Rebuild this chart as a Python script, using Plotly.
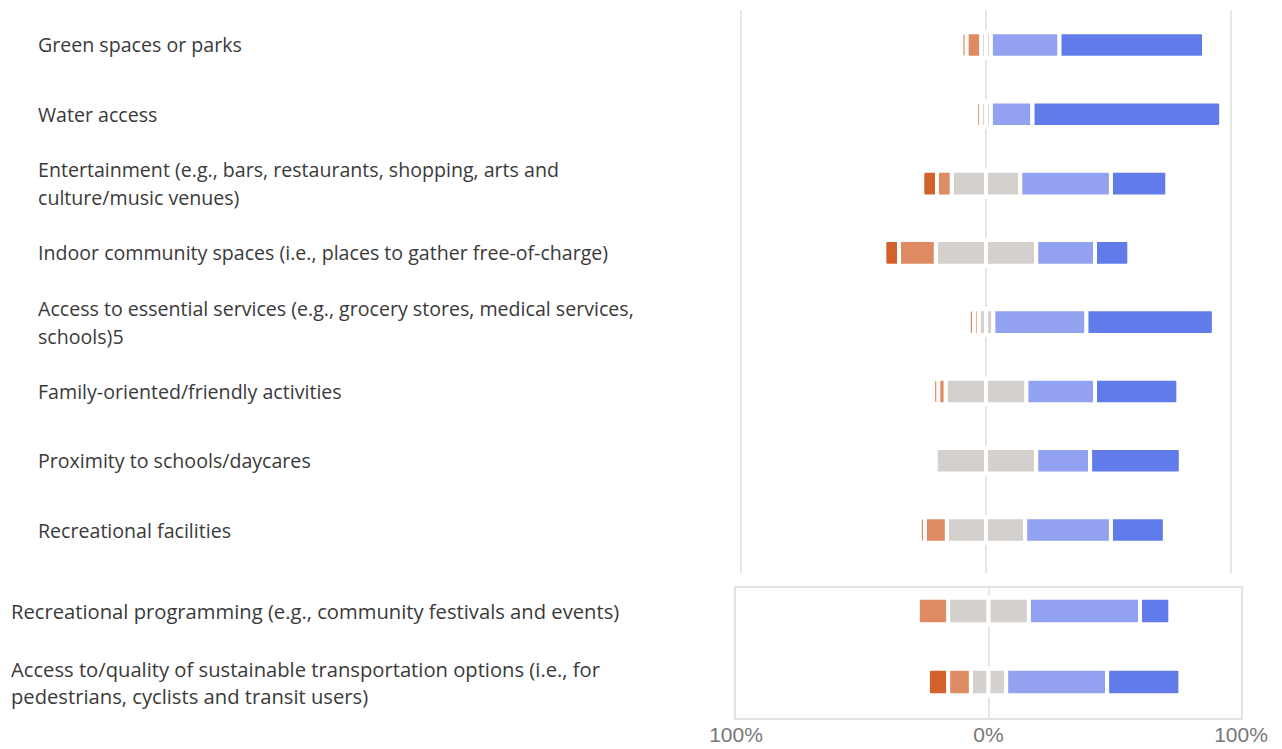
import plotly.graph_objects as go

# ---------------- data ----------------
categories_top = [
    "Green spaces or parks",
    "Water access",
    "Entertainment (e.g., bars, restaurants, shopping, arts and<br>culture/music venues)",
    "Indoor community spaces (i.e., places to gather free-of-charge)",
    "Access to essential services (e.g., grocery stores, medical services,<br>schools)5",
    "Family-oriented/friendly activities",
    "Proximity to schools/daycares",
    "Recreational facilities",
]
categories_bottom = [
    "Recreational programming (e.g., community festivals and events)",
    "Access to/quality of sustainable transportation options (i.e., for<br>pedestrians, cyclists and transit users)",
]

strongly_neg_top = [2, 0, 6, 6, 2, 2, 0, 2]
neg_top = [6, 2, 6, 15, 2, 3, 0, 9]
neutral_top = [4, 4, 28, 41, 6, 33, 41, 32]
pos_top = [28, 17, 37, 24, 38, 28, 22, 35]
strongly_pos_top = [59, 77, 23, 14, 52, 34, 37, 22]

strongly_neg_bottom = [0, 8]
neg_bottom = [12, 9]
neutral_bottom = [32, 14]
pos_bottom = [44, 40]
strongly_pos_bottom = [12, 29]

tick_vals = [-100, 0, 100]
tick_text = ["100%", "0%", "100%"]

# ---------------- style ----------------
C_SNEG = "#D2622A"
C_NEG = "#DE8B63"
C_NEU = "#D3D0CE"
C_POS = "#93A1F1"
C_SPOS = "#617BEB"

W, H = 1282, 749
BAR_W = 0.37
LINE = dict(color="white", width=4)


def fx(px):
    return px / W


def fy(px):
    return 1 - px / H


fig = go.Figure()


def add_panel(cats, sneg, neg, neu, pos, spos, xa, ya):
    half = [v / 2 for v in neu]
    series = [
        ([-h for h in half], C_NEU),
        (half, C_NEU),
        ([-v for v in neg], C_NEG),
        (pos, C_POS),
        ([-v for v in sneg], C_SNEG),
        (spos, C_SPOS),
    ]
    for vals, col in series:
        fig.add_trace(go.Bar(
            y=cats, x=vals, orientation="h", width=BAR_W,
            marker=dict(color=col, line=LINE, cornerradius=3),
            xaxis=xa, yaxis=ya, showlegend=False, hoverinfo="skip",
        ))


add_panel(categories_top, strongly_neg_top, neg_top, neutral_top, pos_top,
          strongly_pos_top, "x", "y")
add_panel(categories_bottom, strongly_neg_bottom, neg_bottom, neutral_bottom,
          pos_bottom, strongly_pos_bottom, "x2", "y2")

# category labels as annotations (left aligned)
annotations = []
for cats, yref, xpix, fsize, lh in [(categories_top, "y", 36, 19.6, 28),
                                    (categories_bottom, "y2", 9, 20.2, 27)]:
    for c in cats:
        lines = c.split("<br>")
        n = len(lines)
        for i, ln in enumerate(lines):
            shift = (n - 1) * lh / 2 - i * lh
            annotations.append(dict(
                x=fx(xpix), xref="paper", y=c, yref=yref, text=ln,
                showarrow=False, xanchor="left", yanchor="middle", yshift=shift,
                font=dict(family="Open Sans", size=fsize, color="#3a3a3a"),
            ))

# top panel: -100 at x=741, +100 at x=1231 (2.45 px per %), range padded so
# the edge grid lines are drawn
pxu = (1231 - 741) / 200.0
fig.update_layout(
    width=W, height=H,
    margin=dict(l=0, r=0, t=0, b=0, autoexpand=False),
    paper_bgcolor="white", plot_bgcolor="white",
    barmode="relative",
    showlegend=False,
    annotations=annotations,
    xaxis=dict(
        domain=[fx(741 - pxu), fx(1231 + pxu)], range=[-101, 101], anchor="y",
        tickvals=tick_vals, showticklabels=False, ticks="",
        showgrid=True, gridcolor="#e6e6e6", gridwidth=2,
        zeroline=False, showline=False, automargin=False,
    ),
    yaxis=dict(
        domain=[fy(573), fy(10)], range=[7.62, -0.505],
        showticklabels=False, ticks="", showgrid=False, zeroline=False,
        showline=False, anchor="x", automargin=False,
    ),
    xaxis2=dict(
        domain=[fx(736), fx(1241)], range=[-100, 100], anchor="y2",
        tickvals=tick_vals, ticktext=tick_text, ticks="",
        ticklabelstandoff=-3,
        tickfont=dict(family="Liberation Sans, Arial", size=21, color="#777777"),
        showgrid=True, gridcolor="#e6e6e6", gridwidth=2,
        zeroline=False, showline=True, mirror=True, linecolor="#e3e3e3",
        linewidth=1.5, automargin=False,
    ),
    yaxis2=dict(
        domain=[fy(718), fy(588)], range=[1.507, -0.324],
        showticklabels=False, ticks="", showgrid=False, zeroline=False,
        showline=True, mirror=True, linecolor="#e3e3e3", linewidth=1.5,
        anchor="x2", automargin=False,
    ),
)

fig.write_html(
    "out.html",
    config={"displayModeBar": False},
    post_script="document.body.style.margin='0px';document.body.style.overflow='hidden';",
)
